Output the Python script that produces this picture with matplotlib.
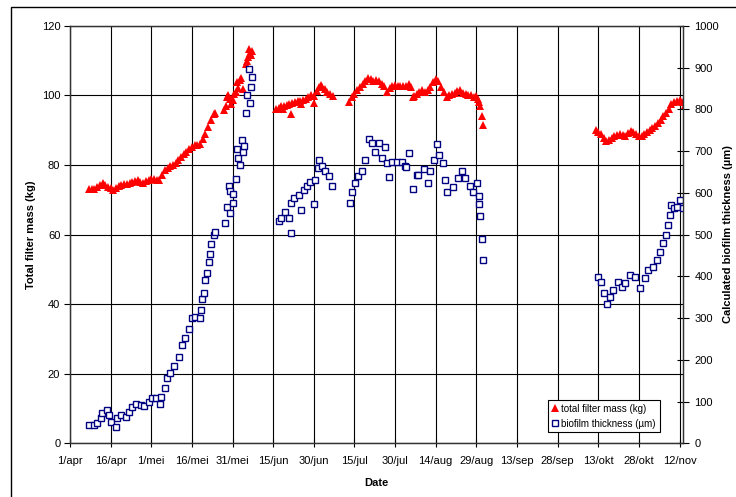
import numpy as np
import pandas as pd
import matplotlib
matplotlib.use("Agg")
import matplotlib.pyplot as plt
from matplotlib.patches import Rectangle

plt.rcParams['font.family'] = ['Liberation Sans', 'DejaVu Sans']

# days counted from 1 april
start = pd.Timestamp("2003-04-01")

mass_days = [7, 8, 9, 10, 11, 12, 13, 14, 15, 16, 17, 18, 19, 20, 21, 22, 23, 24, 25, 26,
             27, 28, 29, 30, 31, 32, 33, 34, 35, 36, 37, 38, 39, 40, 41, 42, 43, 44, 45, 46,
             47, 48, 49, 50, 51, 52, 53, 53.7,
             56.8, 57.5, 58, 58.5, 59, 59.5, 60.1, 60.5, 61.2, 61.7, 62, 62.9, 63.3, 64,
             64.8, 65.3, 65.7, 66, 66.5, 66.9, 67.3,
             76, 77, 78, 78.5, 79, 80, 81, 81.7, 82, 83, 84, 85, 85.4, 86, 87, 88, 89, 90,
             90.2, 91, 92, 92.5, 93, 94, 95, 96, 97,
             103, 104, 105, 106, 107, 108, 109, 110, 111, 112, 113, 114, 115, 116, 117, 118,
             119, 120, 121, 122, 123, 124, 125, 126, 126.8, 127, 128, 129, 130, 131, 132, 133,
             134, 135, 136, 137, 138, 139, 140, 141, 142, 143, 144, 145, 146, 147, 148, 149,
             150, 150.5, 151, 151.4, 152, 152.3,
             194, 195, 196, 197, 198, 199, 200, 201, 202, 203, 204, 205, 206, 207, 208, 209,
             210, 211, 212, 213, 214, 215, 216, 217, 218, 219, 220, 221, 222, 223, 224, 225,
             226, 227]
mass_kg = [73.0, 73.1, 73.2, 73.6, 74.2, 74.7, 74.3, 73.6, 73.3, 72.7, 73.3, 73.9, 74.2, 74.4,
           74.6, 74.8, 75.0, 75.3, 75.6, 75.1, 74.9, 75.4, 75.8, 76.1, 76.0, 75.8, 75.6, 77.0,
           78.6, 79.2, 79.6, 80.1, 80.7, 81.4, 82.3, 83.0, 83.7, 84.5, 85.2, 85.6, 85.7, 86.1,
           87.5, 89.0, 91.0, 92.8, 94.5, 95.0,
           95.7, 96.8, 99.5, 100.2, 99.0, 97.5, 98.6, 100.5, 101.0, 103.8, 102.0, 104.3, 105.1,
           101.9, 109.1, 109.9, 111.0, 113.2, 112.1, 111.5, 112.6,
           96.2, 96.5, 96.8, 96.0, 97.0, 97.2, 97.5, 94.5, 97.8, 98.0, 98.3, 98.5, 97.4, 98.8,
           99.0, 99.4, 100.0, 99.8, 97.8, 101.2, 102.5, 102.9, 102.5, 101.8, 101.0, 100.3, 99.8,
           98.0, 99.5, 100.5, 101.5, 102.5, 103.2, 104.0, 105.0, 104.6, 104.0, 104.4, 104.0,
           103.4, 102.6, 101.0, 102.0, 102.8, 102.9, 102.6, 102.8, 102.6, 102.8, 103.4, 102.5,
           99.5, 99.8, 100.5, 101.0, 101.4, 101.0, 101.5, 102.5, 103.8, 104.8, 104.0, 102.5,
           101.0, 99.5, 100.2, 100.5, 100.8, 101.2, 101.4, 100.8, 100.5, 100.2, 100.0, 99.6,
           99.8, 99.0, 98.0, 96.8, 94.0, 91.5,
           90.0, 89.5, 88.8, 87.8, 86.8, 87.3, 87.8, 88.2, 88.6, 89.0, 88.5, 88.2, 89.2, 89.8,
           89.5, 88.8, 88.2, 88.4, 89.0, 89.6, 90.0, 90.6, 91.3, 92.0, 93.0, 94.0, 95.0, 96.2,
           97.5, 98.2, 98.3, 98.6, 98.0, 97.2]

film_days = [7, 8.9, 10.1, 11.3, 11.9, 13.5, 14.4, 15, 16.8, 17.5, 18.7, 20.5, 21.7, 23, 24.2,
             26.1, 27.3, 29.1, 30.4, 31.6, 33.2, 33.7, 34.9, 35.9, 37.1, 38.3, 40.2, 41.4, 42.6,
             43.9, 45.1, 46.3, 47.9, 48.4, 48.8, 49.4, 50, 50.6, 51.2, 51.6, 52.2, 53.1, 53.7,
             57.4, 58, 59, 60.1, 58.6, 59.2, 60.2, 61.1, 61.7, 61.9, 62.7, 63.4, 63.7, 64.4,
             64.8, 65.4, 66, 66.3, 66.9, 67.3,
             77, 77.8, 79.5, 80.7, 81.7, 81.4, 82.6, 85.3, 84.4, 86.3, 87.5, 88.7, 90.2, 90.6,
             91.4, 92, 93, 94.2, 95.5, 96.7,
             103.2, 104.1, 105.3, 106.5, 107.8, 109, 110.2, 111.4, 112.7, 113.9, 115.1, 116.3,
             117, 117.9, 118.8, 120.7, 122.5, 123.7, 124.1, 125.3, 126.8, 128, 128.6, 130.5,
             132.3, 132.9, 134.2, 135.4, 136.4, 137.6, 138.5, 139.1, 141.5, 143.4, 144.6, 145.8,
             147.7, 148.9, 150.4, 151, 151.1, 151.5, 152, 152.3,
             195, 196.2, 197.1, 198.1, 199.3, 200.6, 202.4, 203.7, 204.8, 206.7, 208.5, 210.4,
             212.2, 213.4, 215.3, 216.7, 217.7, 219, 219.9, 220.8, 221.4, 222, 223, 223.9,
             225.1, 226.3]
film_um = [44, 44, 48, 60, 72, 80, 68, 52, 40, 60, 68, 64, 76, 88, 94, 92, 89, 100, 108, 108,
           94, 112, 132, 156, 169, 184, 207, 235, 252, 273, 299, 303, 301, 319, 346, 361, 391,
           407, 435, 453, 477, 499, 505, 527, 567, 551, 576, 617, 605, 597, 633, 705, 683, 667,
           726, 698, 713, 792, 834, 896, 814, 853, 878,
           532, 540, 555, 539, 503, 575, 587, 559, 595, 607, 616, 627, 573, 631, 659, 679, 663,
           651, 639, 617,
           576, 603, 624, 639, 653, 679, 728, 719, 698, 720, 683, 710, 671, 637, 674, 674, 674,
           663, 661, 695, 608, 643, 643, 656, 623, 651, 679, 717, 690, 671, 631, 603, 615, 635,
           653, 635, 616, 603, 623, 592, 572, 544, 489, 439,
           399, 387, 359, 334, 351, 367, 387, 375, 383, 403, 399, 371, 395, 415, 423, 439, 459,
           479, 499, 523, 547, 571, 563, 567, 583, 563]

tick_labels = ["1/apr", "16/apr", "1/mei", "16/mei", "31/mei", "15/jun", "30/jun", "15/jul",
               "30/jul", "14/aug", "29/aug", "13/sep", "28/sep", "13/okt", "28/okt", "12/nov"]

mass_dates = start + pd.to_timedelta(mass_days, unit="D")
film_dates = start + pd.to_timedelta(film_days, unit="D")
tick_dates = start + pd.to_timedelta(np.arange(len(tick_labels)) * 15, unit="D")

fig = plt.figure(figsize=(7.36, 4.97), dpi=100)
ax = fig.add_axes([0.0951, 0.108, 0.8333, 0.8402])
ax2 = ax.twinx()

# outer frame (only left and top edge visible in the crop)
fig.patches.append(Rectangle((11 / 736, -0.1), 1.2, 1.1 - 7.3 / 497, transform=fig.transFigure,
                             fill=False, edgecolor="black", linewidth=1.0, zorder=-5))

l1, = ax.plot(mass_dates, mass_kg, linestyle="none", marker="^", markersize=5.8,
              color="#ff0000", markeredgewidth=0, label="total filter mass (kg)")
l2, = ax2.plot(film_dates, film_um, linestyle="none", marker="s", markersize=4.4,
               markerfacecolor="white", markeredgecolor="#000080", markeredgewidth=1.0,
               label="biofilm thickness (µm)")

ax.set_xlim(start, start + pd.Timedelta(days=226.4))
ax.set_ylim(0, 120)
ax2.set_ylim(0, 1000)
ax.set_yticks(np.arange(0, 121, 20))
ax2.set_yticks(np.arange(0, 1001, 100))
ax.set_xticks(tick_dates)
ax.set_xticklabels(tick_labels)

ax.grid(True, color="black", linewidth=0.8)
ax.set_axisbelow(True)

for a in (ax, ax2):
    for s in a.spines.values():
        s.set_linewidth(0.9)
        s.set_color("#333333")
ax.tick_params(axis="x", direction="inout", length=6, labelsize=8, pad=6, width=0.8)
ax.tick_params(axis="y", direction="out", length=4, labelsize=8, pad=3, width=0.8)
ax2.tick_params(axis="y", direction="inout", length=8, labelsize=8, pad=4, width=0.8)

ax.set_xlabel("Date", fontsize=8, fontweight="bold", labelpad=9)
ax.set_ylabel("Total filter mass (kg)", fontsize=8, fontweight="bold", labelpad=4)
ax2.set_ylabel("Calculated biofilm thickness (µm)", fontsize=8, fontweight="bold",
               rotation=90, labelpad=3)

leg = ax2.legend(handles=[l1, l2], loc="lower left", bbox_to_anchor=(0.779, 0.026),
                 fontsize=7, frameon=True, fancybox=False, framealpha=1, edgecolor="black",
                 handlelength=0.7, handletextpad=0.3, borderpad=0.4, labelspacing=0.5,
                 borderaxespad=0)
leg.get_frame().set_linewidth(0.8)

fig.savefig("out.png", dpi=100)
